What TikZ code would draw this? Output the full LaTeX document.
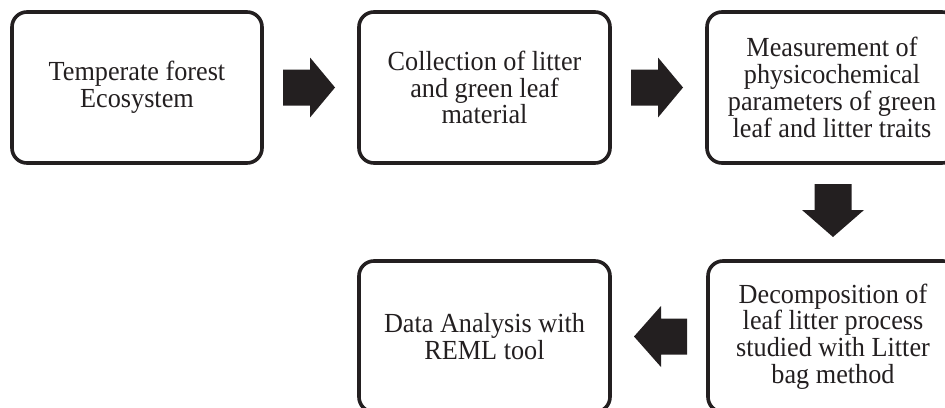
\documentclass[tikz,border=0pt]{standalone}
\usepackage{fontspec}
\setmainfont[FakeStretch=0.95]{Liberation Serif}
\definecolor{ink}{HTML}{231F20}
\tikzset{
  stepbox/.style={draw=ink, line width=3.6pt, rounded corners=15pt, fill=white,
    minimum width=250pt, minimum height=151pt, inner sep=0pt, align=center,
    text=ink, font=\fontsize{27.6}{26.8}\selectfont},
  blockarrow/.style={fill=ink, draw=none}
}
\begin{document}
\begin{tikzpicture}[x=1pt,y=-1pt]
  \useasboundingbox (0,0) rectangle (945,407);
  \clip (0,0) rectangle (945,407);

  % process boxes
  \node[stepbox] (b1) at (137,87.5) {Temperate forest\\Ecosystem};
  \node[stepbox, minimum width=251pt] (b2) at (484.5,87.5) {Collection of litter\\and green leaf\\material};
  \node[stepbox] (b3) at (832,87.5) {Measurement of\\physicochemical\\parameters of green\\leaf and litter traits};
  \node[stepbox] (b4) at (833,336.5) {Decomposition of\\leaf litter process\\studied with Litter\\bag method};
  \node[stepbox, minimum width=251pt] (b5) at (484.5,336.5) {Data Analysis with\\REML tool};

  % block arrows between the boxes
  \fill[blockarrow] (283,69.5) -- (310,69.5) -- (310,57.5) -- (335,87.5)
        -- (310,117.5) -- (310,105.5) -- (283,105.5) -- cycle;
  \fill[blockarrow] (631,69.5) -- (658,69.5) -- (658,57.5) -- (683,87.5)
        -- (658,117.5) -- (658,105.5) -- (631,105.5) -- cycle;
  \fill[blockarrow] (814.5,184) -- (851.5,184) -- (851.5,210) -- (864,210)
        -- (833,237) -- (802,210) -- (814.5,210) -- cycle;
  \fill[blockarrow] (687,318.5) -- (661,318.5) -- (661,306) -- (634,336.5)
        -- (661,367) -- (661,354.5) -- (687,354.5) -- cycle;
\end{tikzpicture}
\end{document}
